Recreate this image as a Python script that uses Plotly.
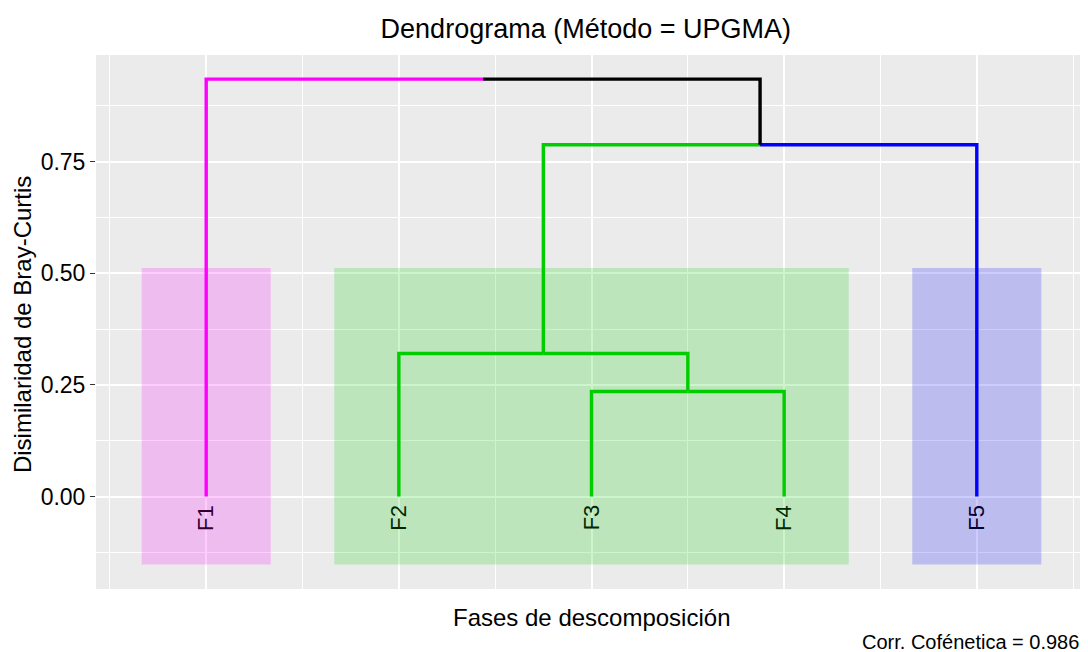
import plotly.graph_objects as go

# ---- data ----
leaf_labels = ["F1", "F2", "F3", "F4", "F5"]
# merges: (left child, right child, height)  -> node names m1..m4
merge_left = ["F3", "F2", "m2", "F1"]
merge_right = ["F4", "m1", "F5", "m3"]
merge_height = [0.2354, 0.3206, 0.788, 0.935]
cluster_of_leaf = {"F1": 0, "F2": 1, "F3": 1, "F4": 1, "F5": 2}
cluster_colors = ["#FF00FF", "#00CD00", "#0000FF"]
label_colors = ["rgb(51,0,51)", "rgb(0,41,0)", "rgb(0,0,51)"]
rect_fill = ["rgba(255,0,255,0.2)", "rgba(0,205,0,0.2)", "rgba(0,0,255,0.2)"]
y_ticks = [0.0, 0.25, 0.5, 0.75]
title_text = "Dendrograma (Método = UPGMA)"
x_title = "Fases de descomposición"
y_title = "Disimilaridad de Bray-Curtis"
caption = "Corr. Cofénetica = 0.986"

# ---- build tree geometry ----
pos = {lab: i + 1 for i, lab in enumerate(leaf_labels)}
height = {lab: 0.0 for lab in leaf_labels}
members = {lab: {lab} for lab in leaf_labels}
parent = {}
for i, (a, b, h) in enumerate(zip(merge_left, merge_right, merge_height)):
    name = "m%d" % (i + 1)
    pos[name] = (pos[a] + pos[b]) / 2
    height[name] = h
    members[name] = members[a] | members[b]
    parent[a] = name
    parent[b] = name

def node_color(n):
    cl = {cluster_of_leaf[m] for m in members[n]}
    return cluster_colors[cl.pop()] if len(cl) == 1 else "#000000"

segs = {}
for n, p in parent.items():
    c = node_color(n)
    xs, ys = segs.setdefault(c, ([], []))
    xs += [pos[p], pos[n], pos[n], None]
    ys += [height[p], height[p], height[n], None]

fig = go.Figure()
for c, (xs, ys) in segs.items():
    fig.add_trace(go.Scatter(x=xs, y=ys, mode="lines",
                             line=dict(color=c, width=3.4),
                             hoverinfo="skip", showlegend=False))

# cluster rectangles
rect_pad = 0.335
rect_y0, rect_y1 = -0.152, 0.512
for k in range(len(cluster_colors)):
    ps = [pos[l] for l in leaf_labels if cluster_of_leaf[l] == k]
    fig.add_shape(type="rect", xref="x", yref="y",
                  x0=min(ps) - rect_pad, x1=max(ps) + rect_pad,
                  y0=rect_y0, y1=rect_y1,
                  fillcolor=rect_fill[k], line=dict(width=0), layer="above")

# leaf labels
for lab in leaf_labels:
    fig.add_annotation(x=pos[lab], y=-0.014, xref="x", yref="y", text=lab,
                       textangle=-90, showarrow=False, xanchor="center",
                       yanchor="top",
                       font=dict(size=22, color=label_colors[cluster_of_leaf[lab]]))

font_family = "Liberation Sans, Arial, sans-serif"
fig.add_annotation(x=0.5, y=-0.0543, xref="paper", yref="paper", text=x_title,
                   showarrow=False, xanchor="center", yanchor="middle",
                   font=dict(size=24, color="black"))
fig.add_annotation(x=-0.0747, y=0.496, xref="paper", yref="paper", text=y_title,
                   textangle=-90, showarrow=False, xanchor="center",
                   yanchor="middle", font=dict(size=24, color="black"))
fig.add_annotation(x=0.994, y=-0.099, xref="paper", yref="paper", text=caption,
                   showarrow=False, xanchor="right", yanchor="middle",
                   font=dict(size=20, color="black"))

fig.update_layout(
    width=1080, height=644,
    margin=dict(l=88, r=1, t=47, b=63),
    paper_bgcolor="white", plot_bgcolor="#EBEBEB",
    font=dict(family=font_family, color="black"),
    title=dict(text=title_text, x=0.535, xanchor="center",
               y=1 - 21 / 644, yanchor="middle",
               font=dict(size=27, color="black")),
)
fig.update_xaxes(range=[0.428, 5.572], tickvals=[1, 2, 3, 4, 5],
                 showticklabels=False, ticks="", showgrid=True,
                 gridcolor="white", gridwidth=1.7, zeroline=False,
                 showline=False,
                 minor=dict(tickvals=[0.5, 1.5, 2.5, 3.5, 4.5, 5.5],
                            showgrid=True, gridcolor="white", gridwidth=0.8,
                            ticks=""))
fig.update_yaxes(range=[-0.207, 0.989], tickvals=y_ticks,
                 ticktext=["%.2f" % v for v in y_ticks],
                 ticks="outside", ticklen=5, tickwidth=1.2, tickcolor="#333333",
                 tickfont=dict(size=23, color="black"),
                 showgrid=True, gridcolor="white", gridwidth=1.7,
                 zeroline=False, showline=False,
                 minor=dict(tickvals=[-0.125, 0.125, 0.375, 0.625, 0.875],
                            showgrid=True, gridcolor="white", gridwidth=0.8,
                            ticks=""))

fig.write_html("out.html")
